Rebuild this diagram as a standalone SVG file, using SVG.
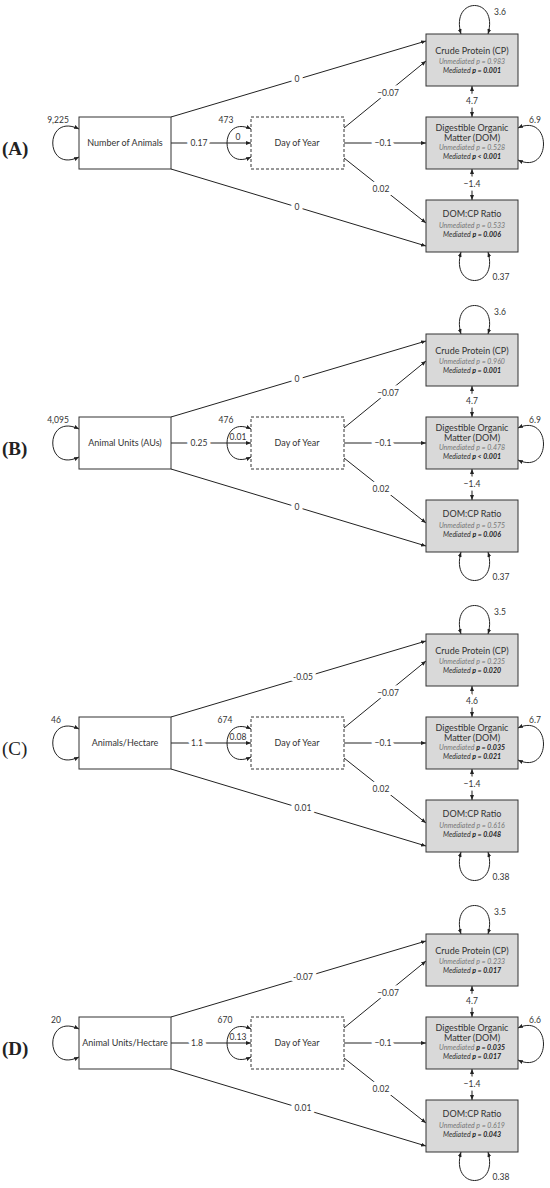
<svg xmlns="http://www.w3.org/2000/svg" width="550" height="1188" viewBox="0 0 550 1188">
<defs>
<marker id="ah" viewBox="0 0 10 10" refX="10" refY="5" markerWidth="5" markerHeight="5" orient="auto-start-reverse"><path d="M0,1 L10,5 L0,9 z" fill="#222"/></marker>
<style>
.box{fill:#fff;stroke:#333;stroke-width:1}
.dash{fill:#fff;stroke:#333;stroke-width:1;stroke-dasharray:3,2}
.grey{fill:#d9d9d9;stroke:#333;stroke-width:1}
.ln{fill:none;stroke:#222;stroke-width:1;marker-end:url(#ah)}
.dbl{fill:none;stroke:#222;stroke-width:1;marker-start:url(#ah);marker-end:url(#ah)}
text{font-family:Lato,"Liberation Sans",sans-serif;fill:#333}
.lbl{font-size:9px;text-anchor:middle}
.val{font-size:8.5px;text-anchor:middle}
.el{font-size:8.5px;text-anchor:middle;dominant-baseline:central;stroke:#fff;stroke-width:7;paint-order:stroke;stroke-linejoin:round}
.un{font-size:7px;font-style:italic;text-anchor:middle;fill:#777}
.md{font-size:7px;font-style:italic;text-anchor:middle;fill:#333}
.b{font-weight:bold;fill:#222}
.pl{font-family:"Liberation Serif",serif;font-size:19px;font-weight:bold;fill:#222}
</style>
</defs>

<!-- Panel A -->
<g id="panelA">
<g id="A-conn">
<path class="ln" d="M171,117 L426,41"/>
<path class="ln" d="M171,169 L426,246"/>
<path class="ln" d="M171,143 L251,143"/>
<path class="ln" d="M344,128 L426,61"/>
<path class="ln" d="M344,143 L426,143"/>
<path class="ln" d="M344,158 L426,223"/>
<path class="dbl" d="M472,86 L472,117"/>
<path class="dbl" d="M472,169 L472,200"/>
<text class="el" x="297" y="79">0</text>
<text class="el" x="297" y="207">0</text>
<text class="el" x="199" y="143">0.17</text>
<text class="el" x="388" y="93">−0.07</text>
<text class="el" x="383" y="143">−0.1</text>
<text class="el" x="381" y="189">0.02</text>
<text class="el" x="472" y="101">4.7</text>
<text class="el" x="472" y="184">−1.4</text>
</g>
<text class="pl" x="2" y="155">(A)</text>
<g id="A-source">
<path class="dbl" d="M79,129 C44,112 44,174 79,157"/>
<text class="val" x="58" y="123">9,225</text>
<rect class="box" x="79" y="117" width="92" height="52"/>
<text class="lbl" x="125" y="146">Number of Animals</text>
</g>
<g id="A-doy">
<path class="dbl" d="M251,129 C219,114 219,172 251,157"/>
<text class="val" x="226" y="123">473</text>
<text class="val" x="238" y="140">0</text>
<rect class="dash" x="251" y="117" width="93" height="52"/>
<text class="lbl" x="297" y="146">Day of Year</text>
</g>
<g id="A-cp">
<path class="dbl" d="M461,34 C450,-4 499,-4 488,34"/>
<text class="val" x="500" y="15">3.6</text>
<rect class="grey" x="426" y="34" width="92" height="52"/>
<text class="lbl" x="472" y="54">Crude Protein (CP)</text>
<text class="un" x="472" y="64">Unmediated p = 0.983</text>
<text class="md" x="472" y="73">Mediated <tspan class="b">p = 0.001</tspan></text>
</g>
<g id="A-dom">
<path class="dbl" d="M518,128 C552,112 552,176 518,160"/>
<text class="val" x="535" y="123">6.9</text>
<rect class="grey" x="426" y="117" width="92" height="52"/>
<text class="lbl" x="472" y="131">Digestible Organic</text>
<text class="lbl" x="472" y="141">Matter (DOM)</text>
<text class="un" x="472" y="150">Unmediated p = 0.528</text>
<text class="md" x="472" y="159">Mediated <tspan class="b">p &lt; 0.001</tspan></text>
</g>
<g id="A-ratio">
<path class="dbl" d="M461,252 C450,290 499,290 488,252"/>
<text class="val" x="501" y="280">0.37</text>
<rect class="grey" x="426" y="200" width="92" height="52"/>
<text class="lbl" x="472" y="217">DOM:CP Ratio</text>
<text class="un" x="472" y="228">Unmediated p = 0.533</text>
<text class="md" x="472" y="237">Mediated <tspan class="b">p = 0.006</tspan></text>
</g>
</g>

<!-- Panel B -->
<g id="panelB" transform="translate(0,300)">
<g id="B-conn">
<path class="ln" d="M171,117 L426,41"/>
<path class="ln" d="M171,169 L426,246"/>
<path class="ln" d="M171,143 L251,143"/>
<path class="ln" d="M344,128 L426,61"/>
<path class="ln" d="M344,143 L426,143"/>
<path class="ln" d="M344,158 L426,223"/>
<path class="dbl" d="M472,86 L472,117"/>
<path class="dbl" d="M472,169 L472,200"/>
<text class="el" x="297" y="79">0</text>
<text class="el" x="297" y="207">0</text>
<text class="el" x="199" y="143">0.25</text>
<text class="el" x="388" y="93">−0.07</text>
<text class="el" x="383" y="143">−0.1</text>
<text class="el" x="381" y="189">0.02</text>
<text class="el" x="472" y="101">4.7</text>
<text class="el" x="472" y="184">−1.4</text>
</g>
<text class="pl" x="2" y="155">(B)</text>
<g id="B-source">
<path class="dbl" d="M79,129 C44,112 44,174 79,157"/>
<text class="val" x="58" y="123">4,095</text>
<rect class="box" x="79" y="117" width="92" height="52"/>
<text class="lbl" x="125" y="146">Animal Units (AUs)</text>
</g>
<g id="B-doy">
<path class="dbl" d="M251,129 C219,114 219,172 251,157"/>
<text class="val" x="226" y="123">476</text>
<text class="val" x="238" y="140">0.01</text>
<rect class="dash" x="251" y="117" width="93" height="52"/>
<text class="lbl" x="297" y="146">Day of Year</text>
</g>
<g id="B-cp">
<path class="dbl" d="M461,34 C450,-4 499,-4 488,34"/>
<text class="val" x="500" y="15">3.6</text>
<rect class="grey" x="426" y="34" width="92" height="52"/>
<text class="lbl" x="472" y="54">Crude Protein (CP)</text>
<text class="un" x="472" y="64">Unmediated p = 0.960</text>
<text class="md" x="472" y="73">Mediated <tspan class="b">p = 0.001</tspan></text>
</g>
<g id="B-dom">
<path class="dbl" d="M518,128 C552,112 552,176 518,160"/>
<text class="val" x="535" y="123">6.9</text>
<rect class="grey" x="426" y="117" width="92" height="52"/>
<text class="lbl" x="472" y="131">Digestible Organic</text>
<text class="lbl" x="472" y="141">Matter (DOM)</text>
<text class="un" x="472" y="150">Unmediated p = 0.478</text>
<text class="md" x="472" y="159">Mediated <tspan class="b">p &lt; 0.001</tspan></text>
</g>
<g id="B-ratio">
<path class="dbl" d="M461,252 C450,290 499,290 488,252"/>
<text class="val" x="501" y="280">0.37</text>
<rect class="grey" x="426" y="200" width="92" height="52"/>
<text class="lbl" x="472" y="217">DOM:CP Ratio</text>
<text class="un" x="472" y="228">Unmediated p = 0.575</text>
<text class="md" x="472" y="237">Mediated <tspan class="b">p = 0.006</tspan></text>
</g>
</g>

<!-- Panel C -->
<g id="panelC" transform="translate(0,600)">
<g id="C-conn">
<path class="ln" d="M171,117 L426,41"/>
<path class="ln" d="M171,169 L426,246"/>
<path class="ln" d="M171,143 L251,143"/>
<path class="ln" d="M344,128 L426,61"/>
<path class="ln" d="M344,143 L426,143"/>
<path class="ln" d="M344,158 L426,223"/>
<path class="dbl" d="M472,86 L472,117"/>
<path class="dbl" d="M472,169 L472,200"/>
<text class="el" x="303" y="77">-0.05</text>
<text class="el" x="303" y="208">0.01</text>
<text class="el" x="197" y="143">1.1</text>
<text class="el" x="388" y="93">−0.07</text>
<text class="el" x="383" y="143">−0.1</text>
<text class="el" x="381" y="189">0.02</text>
<text class="el" x="472" y="101">4.6</text>
<text class="el" x="472" y="184">−1.4</text>
</g>
<text class="pl" x="2" y="155" style="font-weight:normal">(C)</text>
<g id="C-source">
<path class="dbl" d="M79,129 C44,112 44,174 79,157"/>
<text class="val" x="56" y="123">46</text>
<rect class="box" x="79" y="117" width="92" height="52"/>
<text class="lbl" x="125" y="146">Animals/Hectare</text>
</g>
<g id="C-doy">
<path class="dbl" d="M251,129 C219,114 219,172 251,157"/>
<text class="val" x="225" y="123">674</text>
<text class="val" x="238" y="140">0.08</text>
<rect class="dash" x="251" y="117" width="93" height="52"/>
<text class="lbl" x="297" y="146">Day of Year</text>
</g>
<g id="C-cp">
<path class="dbl" d="M461,34 C450,-4 499,-4 488,34"/>
<text class="val" x="500" y="15">3.5</text>
<rect class="grey" x="426" y="34" width="92" height="52"/>
<text class="lbl" x="472" y="54">Crude Protein (CP)</text>
<text class="un" x="472" y="64">Unmediated p = 0.235</text>
<text class="md" x="472" y="73">Mediated <tspan class="b">p = 0.020</tspan></text>
</g>
<g id="C-dom">
<path class="dbl" d="M518,128 C552,112 552,176 518,160"/>
<text class="val" x="535" y="123">6.7</text>
<rect class="grey" x="426" y="117" width="92" height="52"/>
<text class="lbl" x="472" y="131">Digestible Organic</text>
<text class="lbl" x="472" y="141">Matter (DOM)</text>
<text class="md" x="472" y="150"><tspan fill="#777">Unmediated </tspan><tspan class="b">p = 0.035</tspan></text>
<text class="md" x="472" y="159">Mediated <tspan class="b">p = 0.021</tspan></text>
</g>
<g id="C-ratio">
<path class="dbl" d="M461,252 C450,290 499,290 488,252"/>
<text class="val" x="501" y="280">0.38</text>
<rect class="grey" x="426" y="200" width="92" height="52"/>
<text class="lbl" x="472" y="217">DOM:CP Ratio</text>
<text class="un" x="472" y="228">Unmediated p = 0.616</text>
<text class="md" x="472" y="237">Mediated <tspan class="b">p = 0.048</tspan></text>
</g>
</g>

<!-- Panel D -->
<g id="panelD" transform="translate(0,900)">
<g id="D-conn">
<path class="ln" d="M171,117 L426,41"/>
<path class="ln" d="M171,169 L426,246"/>
<path class="ln" d="M171,143 L251,143"/>
<path class="ln" d="M344,128 L426,61"/>
<path class="ln" d="M344,143 L426,143"/>
<path class="ln" d="M344,158 L426,223"/>
<path class="dbl" d="M472,86 L472,117"/>
<path class="dbl" d="M472,169 L472,200"/>
<text class="el" x="303" y="77">-0.07</text>
<text class="el" x="303" y="208">0.01</text>
<text class="el" x="197" y="143">1.8</text>
<text class="el" x="388" y="93">−0.07</text>
<text class="el" x="383" y="143">−0.1</text>
<text class="el" x="381" y="189">0.02</text>
<text class="el" x="472" y="101">4.7</text>
<text class="el" x="472" y="184">−1.4</text>
</g>
<text class="pl" x="2" y="155">(D)</text>
<g id="D-source">
<path class="dbl" d="M79,129 C44,112 44,174 79,157"/>
<text class="val" x="56" y="123">20</text>
<rect class="box" x="79" y="117" width="92" height="52"/>
<text class="lbl" x="125" y="146">Animal Units/Hectare</text>
</g>
<g id="D-doy">
<path class="dbl" d="M251,129 C219,114 219,172 251,157"/>
<text class="val" x="225" y="123">670</text>
<text class="val" x="238" y="140">0.13</text>
<rect class="dash" x="251" y="117" width="93" height="52"/>
<text class="lbl" x="297" y="146">Day of Year</text>
</g>
<g id="D-cp">
<path class="dbl" d="M461,34 C450,-4 499,-4 488,34"/>
<text class="val" x="500" y="15">3.5</text>
<rect class="grey" x="426" y="34" width="92" height="52"/>
<text class="lbl" x="472" y="54">Crude Protein (CP)</text>
<text class="un" x="472" y="64">Unmediated p = 0.233</text>
<text class="md" x="472" y="73">Mediated <tspan class="b">p = 0.017</tspan></text>
</g>
<g id="D-dom">
<path class="dbl" d="M518,128 C552,112 552,176 518,160"/>
<text class="val" x="535" y="123">6.6</text>
<rect class="grey" x="426" y="117" width="92" height="52"/>
<text class="lbl" x="472" y="131">Digestible Organic</text>
<text class="lbl" x="472" y="141">Matter (DOM)</text>
<text class="md" x="472" y="150"><tspan fill="#777">Unmediated </tspan><tspan class="b">p = 0.035</tspan></text>
<text class="md" x="472" y="159">Mediated <tspan class="b">p = 0.017</tspan></text>
</g>
<g id="D-ratio">
<path class="dbl" d="M461,252 C450,290 499,290 488,252"/>
<text class="val" x="501" y="280">0.38</text>
<rect class="grey" x="426" y="200" width="92" height="52"/>
<text class="lbl" x="472" y="217">DOM:CP Ratio</text>
<text class="un" x="472" y="228">Unmediated p = 0.619</text>
<text class="md" x="472" y="237">Mediated <tspan class="b">p = 0.043</tspan></text>
</g>
</g>
</svg>
